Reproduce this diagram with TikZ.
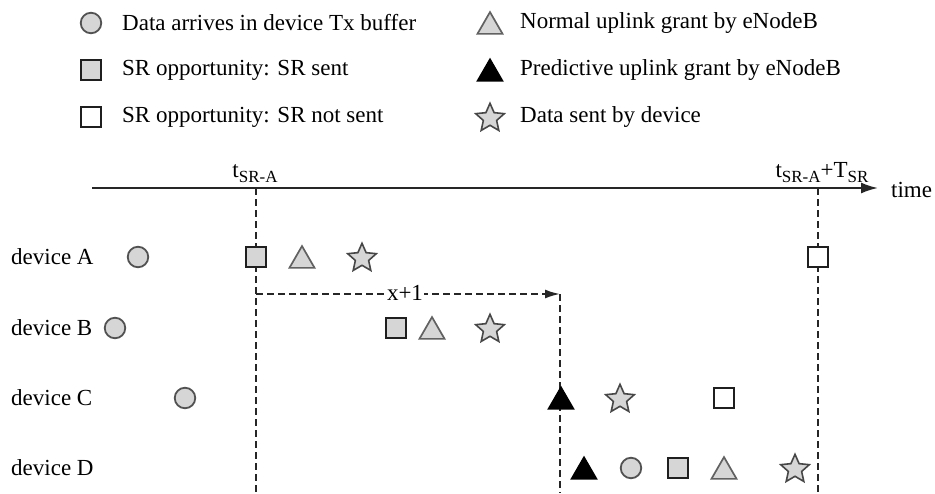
\documentclass[tikz,border=0pt]{standalone}
\usepackage{fontspec}
\setmainfont{Liberation Serif}
\usetikzlibrary{shapes.geometric,arrows.meta}
\newcommand\sbs[1]{\raisebox{-0.22em}{\fontsize{17}{17}\selectfont #1}}
\definecolor{symfill}{HTML}{D6D6D6}
\begin{document}
\begin{tikzpicture}[x=1pt,y=-1pt,
  lbl/.style={font=\fontsize{23}{27}\selectfont, inner sep=0pt},
  dat/.style={circle, draw=black!68, fill=symfill, line width=1.8pt, minimum size=20.5pt, inner sep=0pt},
  srs/.style={rectangle, draw=black!88, fill=symfill, line width=2.1pt, minimum size=20.5pt, inner sep=0pt},
  srn/.style={rectangle, draw=black!88, fill=white, line width=2.1pt, minimum size=20.5pt, inner sep=0pt},
  ngr/.style={regular polygon, regular polygon sides=3, draw=black!62, fill=symfill, line width=1.7pt, minimum size=29pt, inner sep=0pt, yshift=-3.6pt},
  pgr/.style={regular polygon, regular polygon sides=3, draw=black, fill=black, line width=1.4pt, minimum size=29pt, inner sep=0pt, yshift=-3.6pt},
  snt/.style={star, star points=5, star point ratio=2.15, draw=black!72, fill=symfill, line width=1.6pt, minimum size=30pt, inner sep=0pt, yshift=-1.3pt},
  guide/.style={dashed, dash pattern=on 7pt off 4pt, line width=1.8pt, black!85},
  axis/.style={line width=2pt, black!85, -{Latex[length=17pt,width=11pt]}}
]
\useasboundingbox (0,0) rectangle (935,493);

% legend
\node[dat] (l1) at (91,23) {};
\node[lbl, anchor=west] (l1t) at (122,23) {Data arrives in device Tx buffer};
\node[srs] (l2) at (91,70) {};
\node[lbl, anchor=west] (l2t) at (122,70) {SR opportunity: SR sent};
\node[srn] (l3) at (91,117) {};
\node[lbl, anchor=west] (l3t) at (122,117) {SR opportunity: SR not sent};
\node[ngr] (l4) at (490,23) {};
\node[lbl, anchor=west] (l4t) at (520,23) {Normal uplink grant by eNodeB};
\node[pgr] (l5) at (490,70) {};
\node[lbl, anchor=west] (l5t) at (520,70) {Predictive uplink grant by eNodeB};
\node[snt] (l6) at (490,117) {};
\node[lbl, anchor=west] (l6t) at (520,117) {Data sent by device};

% time axis
\coordinate (ax0) at (92,188);
\coordinate (ax1) at (878,188);
\draw[axis] (ax0) -- (ax1);
\node[lbl, anchor=west] (time) at (891,190) {time};
\node[lbl, anchor=base] (tA) at (255,177) {t\sbs{SR-A}};
\node[lbl, anchor=base] (tB) at (822,177) {t\sbs{SR-A}+T\sbs{SR}};

% period boundaries
\coordinate (vA0) at (256,188);
\coordinate (vA1) at (256,493);
\coordinate (vB0) at (818,188);
\coordinate (vB1) at (818,493);
\draw[guide] (vA0) -- (vA1);
\draw[guide] (vB0) -- (vB1);

% x+1 offset
\coordinate (x0) at (256,294);
\coordinate (x1) at (560,294);
\coordinate (x2) at (560,493);
\draw[guide, -{Latex[length=15pt,width=9pt]}] (x0) -- (x1);
\draw[guide] (x1) -- (x2);
\node[lbl, fill=white, inner xsep=1.5pt] (xl) at (405,293) {x+1};

% device rows
\node[lbl, anchor=west] (dA) at (11,257) {device A};
\node[lbl, anchor=west] (dB) at (11,328) {device B};
\node[lbl, anchor=west] (dC) at (11,398) {device C};
\node[lbl, anchor=west] (dD) at (11,468) {device D};

% device A
\node[dat] (a1) at (138,257) {};
\node[srs] (a2) at (256,257) {};
\node[ngr] (a3) at (302,257) {};
\node[snt] (a4) at (362,257) {};
\node[srn] (a5) at (818,257) {};

% device B
\node[dat] (b1) at (115,328) {};
\node[srs] (b2) at (396,328) {};
\node[ngr] (b3) at (432,328) {};
\node[snt] (b4) at (490,328) {};

% device C
\node[dat] (c1) at (185,398) {};
\node[pgr] (c2) at (561,398) {};
\node[snt] (c3) at (620,398) {};
\node[srn] (c4) at (724,398) {};

% device D
\node[pgr] (d1) at (584,468) {};
\node[dat] (d2) at (631,468) {};
\node[srs] (d3) at (678,468) {};
\node[ngr] (d4) at (724,468) {};
\node[snt] (d5) at (795,468) {};
\end{tikzpicture}
\end{document}
